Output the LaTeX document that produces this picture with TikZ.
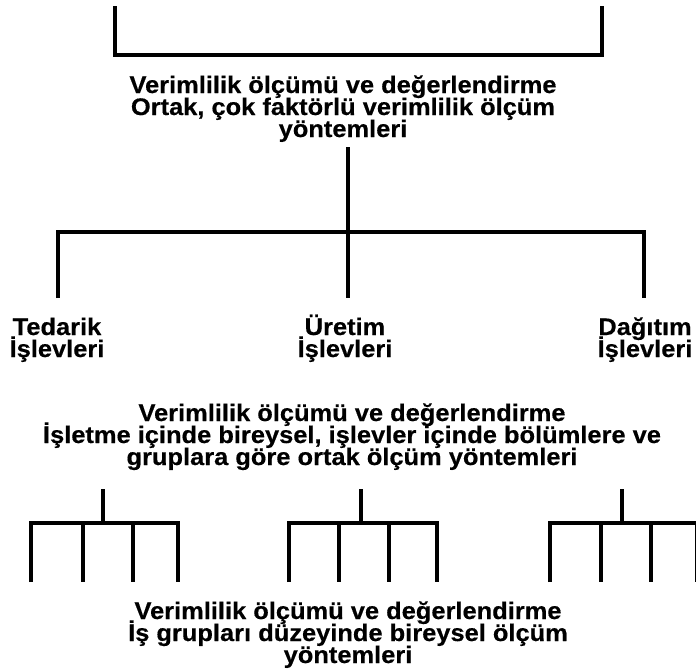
\documentclass[tikz,border=0pt]{standalone}
\usepackage{fontspec}
\setmainfont{Liberation Sans}
\newfontfamily\chartfont{Liberation Sans Bold}[FakeStretch=1.06, FakeBold=0.4]
\begin{document}
\begin{tikzpicture}[x=1pt,y=-1pt,
  txt/.style={anchor=base, inner sep=0pt, font=\chartfont\fontsize{24}{24}\selectfont},
  bar/.style={line width=3.8pt, line join=miter, line cap=butt}]
\useasboundingbox (0,0) rectangle (696,670);

% bracket closing the level above
\coordinate (bl) at (115,6);
\coordinate (br) at (602,6);
\coordinate (bbl) at (115,55);
\coordinate (bbr) at (602,55);
\draw[bar] (bl) -- (bbl) -- (bbr) -- (br);

% level 1: company-wide measurement
\node[txt] (h1) at (343,93)  {Verimlilik ölçümü ve değerlendirme};
\node[txt] (h2) at (343,115) {Ortak, çok faktörlü verimlilik ölçüm};
\node[txt] (h3) at (343,137) {yöntemleri};

% split into the three functions
\coordinate (hub) at (348,232);
\coordinate (hl) at (58,232);
\coordinate (hr) at (644,232);
\coordinate (e1) at (58,298);
\coordinate (e2) at (348,298);
\coordinate (e3) at (644,298);
\draw[bar] (h3.base -| hub) ++(0,10) -- (e2);
\draw[bar] (e1) -- (hl) -- (hr) -- (e3);

\node[txt] (f1) at (57,335)  {Tedarik};
\node[txt] (g1) at (57,357)  {İşlevleri};
\node[txt] (f2) at (345,335) {Üretim};
\node[txt] (g2) at (345,357) {İşlevleri};
\node[txt] (f3) at (645,335) {Dağıtım};
\node[txt] (g3) at (645,357) {İşlevleri};

% level 2: departments and groups
\node[txt] (m1) at (352,421) {Verimlilik ölçümü ve değerlendirme};
\node[txt] (m2) at (352,443) {İşletme içinde bireysel, işlevler içinde bölümlere ve};
\node[txt] (m3) at (352,465) {gruplara göre ortak ölçüm yöntemleri};

% one small tree per function, four work groups each
\foreach \n/\s/\a/\b/\c/\d in {1/103/31/83/133/178, 2/361/289/339/389/437, 3/622/550/601/651/697} {
  \coordinate (s\n) at (\s,489);
  \coordinate (j\n) at (\s,523);
  \draw[bar] (s\n) -- (j\n);
  \draw[bar] (\a,582) -- (\a,523) -- (\d,523) -- (\d,582);
  \draw[bar] (\b,523) -- (\b,582);
  \draw[bar] (\c,523) -- (\c,582);
}

% level 3: work groups
\node[txt] (b1) at (348,619) {Verimlilik ölçümü ve değerlendirme};
\node[txt] (b2) at (348,641) {İş grupları düzeyinde bireysel ölçüm};
\node[txt] (b3) at (348,663) {yöntemleri};
\end{tikzpicture}
\end{document}
